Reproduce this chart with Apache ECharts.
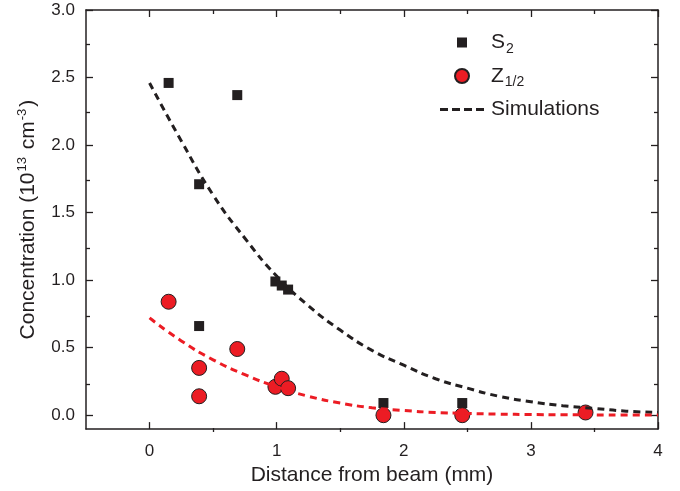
<!DOCTYPE html>
<html>
<head>
<meta charset="utf-8">
<script src="https://cdn.jsdelivr.net/npm/echarts@6/dist/echarts.min.js"></script>
<style>
html,body{margin:0;padding:0;background:#fff;}
#main{width:680px;height:491px;}
</style>
</head>
<body>
<div id="main"></div>
<script>
/*tick positions*/
var xTicks = [0, 1, 2, 3, 4];
var xMinor = [0.5, 1.5, 2.5, 3.5];
var yTicks = [0, 0.5, 1, 1.5, 2, 2.5, 3];
var yMinor = [0.25, 0.75, 1.25, 1.75, 2.25, 2.75];

/*S2 measured points*/
var s2X = [0.15, 0.69, 0.39, 0.99, 1.04, 1.09, 0.39, 1.84, 2.46, 3.43];
var s2Y = [2.46, 2.37, 1.71, 0.99, 0.96, 0.93, 0.66, 0.09, 0.09, 0.02];

/*Z1/2 measured points*/
var zX = [0.15, 0.39, 0.39, 0.69, 0.99, 1.04, 1.09, 1.84, 2.46, 3.43];
var zY = [0.84, 0.35, 0.14, 0.49, 0.21, 0.27, 0.20, 0.00, 0.00, 0.02];

/*simulation curves*/
var simX  = [0, 0.25, 0.5, 0.75, 1.0, 1.25, 1.5, 1.75, 2.0, 2.25, 2.5, 2.75, 3.0, 3.25, 3.5, 3.75, 4.0];
var simS2 = [2.46, 2.03, 1.63, 1.31, 1.03, 0.81, 0.63, 0.48, 0.37, 0.27, 0.20, 0.14, 0.10, 0.07, 0.05, 0.03, 0.02];
var simZ  = [0.72, 0.55, 0.41, 0.30, 0.21, 0.14, 0.09, 0.055, 0.035, 0.02, 0.013, 0.008, 0.005, 0.003, 0.002, 0.001, 0.001];

var ink = '#231f20';
var red = '#ec1c24';
var font = 'Liberation Sans, Arial, sans-serif';

function pairs(xs, ys) {
	var out = [];
	for (var i = 0; i < xs.length; i++) out.push([xs[i], ys[i]]);
	return out;
}

/*坐标轴: major / minor 分别放在两个重叠的grid上*/
function xAxisOf(grid, pos, ticks, len, main) {
	return {
		type: 'value', gridIndex: grid, position: pos, min: -0.5, max: 4,
		axisLine: { show: main, onZero: false, lineStyle: { color: ink, width: 1.5 } },
		axisTick: { show: true, inside: true, length: len, customValues: ticks, lineStyle: { color: ink, width: 1.3 } },
		axisLabel: { show: main && pos == 'bottom', customValues: ticks, margin: 14, fontSize: 17, color: ink, fontFamily: font },
		splitLine: { show: false },
		name: (main && pos == 'bottom') ? 'Distance from beam (mm)' : '',
		nameLocation: 'middle', nameGap: 35,
		nameTextStyle: { fontSize: 21, color: ink, fontFamily: font }
	};
}
function yAxisOf(grid, pos, ticks, len, main) {
	return {
		type: 'value', gridIndex: grid, position: pos, min: -0.103, max: 3.0,
		axisLine: { show: main, onZero: false, lineStyle: { color: ink, width: 1.5 } },
		axisTick: { show: true, inside: true, length: len, customValues: ticks, lineStyle: { color: ink, width: 1.3 } },
		axisLabel: {
			show: main && pos == 'left', customValues: ticks, margin: 11, fontSize: 17, color: ink, fontFamily: font,
			formatter: function (v) { return v.toFixed(1); }
		},
		splitLine: { show: false },
		name: (main && pos == 'left') ? '{t|Concentration (10}{sup|13}{t| cm}{sup|-3}{t|)}' : '',
		nameLocation: 'middle', nameGap: 45, nameRotate: 90,
		nameTextStyle: {
			color: ink, fontFamily: font,
			rich: {
				t: { fontSize: 21, color: ink, fontFamily: font },
				sup: { fontSize: 13, color: ink, fontFamily: font, padding: [0, 2, 12, 1] }
			}
		}
	};
}

var legendRich = {
	m: { fontSize: 21, color: ink, fontFamily: font, lineHeight: 24 },
	s: { fontSize: 14, color: ink, fontFamily: font, padding: [13, 0, 0, 1] }
};
function legendText(name) {
	if (name == 'S2') return '{m|S}{s|2}';
	if (name == 'Z1/2') return '{m|Z}{s|1/2}';
	return '{m|' + name + '}';
}
/*图例图标用path, 先用M0,0 M48,14 撑开边界, 图标居中*/
var icons = {
	'S2': 'path://M0,0M48,14M19,2h10v10h-10z',
	'Z1/2': 'path://M0,0M48,14M17,7a7,7 0 1,0 14,0a7,7 0 1,0 -14,0z',
	'Simulations': 'path://M0,0M48,14M2,5.5h8v3h-8zM14,5.5h8v3h-8zM26,5.5h8v3h-8zM38,5.5h8v3h-8z'
};

var gridBox = { left: 86, right: 22, top: 10, bottom: 59 };

var option = {
	backgroundColor: '#fff',
	animation: false,
	grid: [
		{ left: gridBox.left, right: gridBox.right, top: gridBox.top, bottom: gridBox.bottom },
		{ left: gridBox.left, right: gridBox.right, top: gridBox.top, bottom: gridBox.bottom }
	],
	xAxis: [
		xAxisOf(0, 'bottom', xTicks, 7, true),
		xAxisOf(0, 'top', xTicks, 7, true),
		xAxisOf(1, 'bottom', xMinor, 4, false),
		xAxisOf(1, 'top', xMinor, 4, false)
	],
	yAxis: [
		yAxisOf(0, 'left', yTicks, 7, true),
		yAxisOf(0, 'right', yTicks, 7, true),
		yAxisOf(1, 'left', yMinor, 4, false),
		yAxisOf(1, 'right', yMinor, 4, false)
	],
	legend: {
		data: [
			{ name: 'S2', icon: icons['S2'] },
			{ name: 'Z1/2', icon: icons['Z1/2'] },
			{ name: 'Simulations', icon: icons['Simulations'] }
		],
		orient: 'vertical', left: 437, top: 32,
		itemWidth: 48, itemHeight: 14, itemGap: 9.5, padding: 0,
		formatter: legendText, selectedMode: false,
		textStyle: { rich: legendRich }
	},
	series: [
		{
			name: 'Simulations', type: 'line', xAxisIndex: 0, yAxisIndex: 0,
			data: pairs(simX, simS2), smooth: true, symbol: 'none',
			lineStyle: { color: ink, width: 3, type: [7, 5] },
			itemStyle: { color: ink }
		},
		{
			name: 'SimZ', type: 'line', xAxisIndex: 0, yAxisIndex: 0,
			data: pairs(simX, simZ), smooth: true, symbol: 'none',
			lineStyle: { color: red, width: 3, type: [7, 5] },
			itemStyle: { color: red }
		},
		{
			name: 'S2', type: 'scatter', xAxisIndex: 0, yAxisIndex: 0,
			data: pairs(s2X, s2Y), symbol: 'rect', symbolSize: 10,
			itemStyle: { color: ink, opacity: 1 }
		},
		{
			name: 'Z1/2', type: 'scatter', xAxisIndex: 0, yAxisIndex: 0,
			data: pairs(zX, zY), symbol: 'circle', symbolSize: 15,
			itemStyle: { color: red, borderColor: ink, borderWidth: 1, opacity: 1 }
		}
	]
};

var chart = echarts.init(document.getElementById('main'), null, { renderer: 'canvas' });
chart.setOption(option);
</script>
</body>
</html>
